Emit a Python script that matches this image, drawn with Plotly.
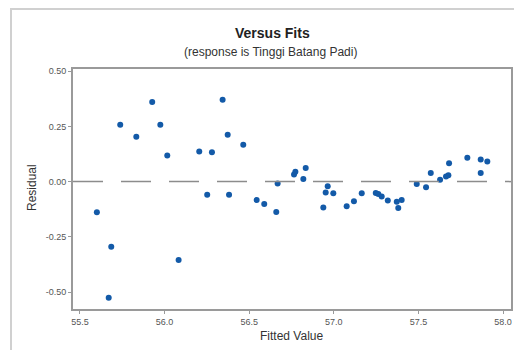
import plotly.graph_objects as go

fitted = [55.600, 55.670, 55.685, 55.738, 55.833, 55.927, 55.975, 56.016, 56.083,
          56.205, 56.252, 56.280, 56.343, 56.373, 56.381, 56.465, 56.544, 56.589,
          56.660, 56.668, 56.765, 56.773, 56.820, 56.834, 56.938, 56.952, 56.964,
          56.997, 57.076, 57.119, 57.165, 57.248, 57.263, 57.283, 57.319, 57.372,
          57.381, 57.401, 57.490, 57.545, 57.573, 57.628, 57.663, 57.677, 57.681,
          57.789, 57.868, 57.868, 57.907]
residual = [-0.139, -0.526, -0.295, 0.258, 0.203, 0.360, 0.258, 0.118, -0.355,
            0.136, -0.060, 0.133, 0.371, 0.212, -0.060, 0.167, -0.083, -0.101,
            -0.138, -0.009, 0.032, 0.045, 0.012, 0.062, -0.117, -0.049, -0.021,
            -0.053, -0.112, -0.089, -0.053, -0.052, -0.056, -0.067, -0.086, -0.091,
            -0.120, -0.083, -0.011, -0.026, 0.039, 0.008, 0.023, 0.029, 0.083,
            0.108, 0.100, 0.039, 0.091]

x_ticks = [55.5, 56.0, 56.5, 57.0, 57.5, 58.0]
x_tick_labels = ["55.5", "56.0", "56.5", "57.0", "57.5", "58.0"]
y_ticks = [-0.50, -0.25, 0.00, 0.25, 0.50]
y_tick_labels = ["-0.50", "-0.25", "0.00", "0.25", "0.50"]

title = "Versus Fits"
subtitle = "(response is Tinggi Batang Padi)"
x_title = "Fitted Value"
y_title = "Residual"

FONT = "Liberation Sans"

# page body has an 8px default margin; work in page coordinates and offset
OFF = 8
W, H = 522 - OFF, 350 - OFF
L, R, T, B = 73 - OFF, 11, 69 - OFF, 41
pw, ph = W - L - R, H - T - B

def px(x):
    return (x - OFF - L) / pw

def py(y):
    return (H - B - (y - OFF)) / ph

fig = go.Figure()
fig.add_trace(go.Scatter(
    x=fitted, y=residual, mode="markers",
    marker=dict(symbol="circle", size=6, color="#135aa8", line=dict(width=0)),
    showlegend=False, hoverinfo="x+y"))

x_range = [55.459, 58.047]
fig.add_trace(go.Scatter(
    x=x_range, y=[0, 0], mode="lines",
    line=dict(color="#8c8c8c", width=1.5, dash="30px,18px"),
    showlegend=False, hoverinfo="skip"))

fig.update_layout(
    width=W, height=H,
    margin=dict(l=L, r=R, t=T, b=B, autoexpand=False),
    paper_bgcolor="white", plot_bgcolor="white",
    font=dict(family=FONT, color="#333"),
    xaxis=dict(range=x_range, tickvals=x_ticks, ticktext=x_tick_labels,
               automargin=False,
               showgrid=False, zeroline=False, showline=True, mirror=True,
               linecolor="#9a9a9a", linewidth=2, ticks="outside", ticklen=3,
               tickcolor="#9a9a9a", tickfont=dict(size=9, color="#555")),
    yaxis=dict(range=[-0.577, 0.51], tickvals=y_ticks, ticktext=y_tick_labels,
               automargin=False,
               showgrid=False, zeroline=False, showline=True, mirror=True,
               linecolor="#9a9a9a", linewidth=2, ticks="outside", ticklen=3,
               tickcolor="#9a9a9a", tickfont=dict(size=9, color="#555")),
    shapes=[
        dict(type="line", xref="paper", yref="paper",
             x0=px(10), x1=px(522), y0=py(9), y1=py(9),
             line=dict(color="#d0d0d0", width=2)),
        dict(type="line", xref="paper", yref="paper",
             x0=px(11), x1=px(11), y0=py(9), y1=py(350),
             line=dict(color="#d0d0d0", width=2)),
    ],
    annotations=[
        dict(text="<b>" + title + "</b>", xref="paper", yref="paper",
             x=px(272), y=py(33), showarrow=False, xanchor="center", yanchor="middle",
             font=dict(size=14, color="#222", family=FONT)),
        dict(text=subtitle, xref="paper", yref="paper",
             x=px(270), y=py(52), showarrow=False, xanchor="center", yanchor="middle",
             font=dict(size=12, color="#333", family=FONT)),
        dict(text=x_title, xref="paper", yref="paper",
             x=px(291), y=py(336), showarrow=False, xanchor="center", yanchor="middle",
             font=dict(size=12, color="#333", family=FONT)),
        dict(text=y_title, xref="paper", yref="paper",
             x=px(32), y=py(188), showarrow=False, xanchor="center", yanchor="middle",
             textangle=-90, font=dict(size=12, color="#333", family=FONT)),
    ],
)

fig.write_html("out.html")
